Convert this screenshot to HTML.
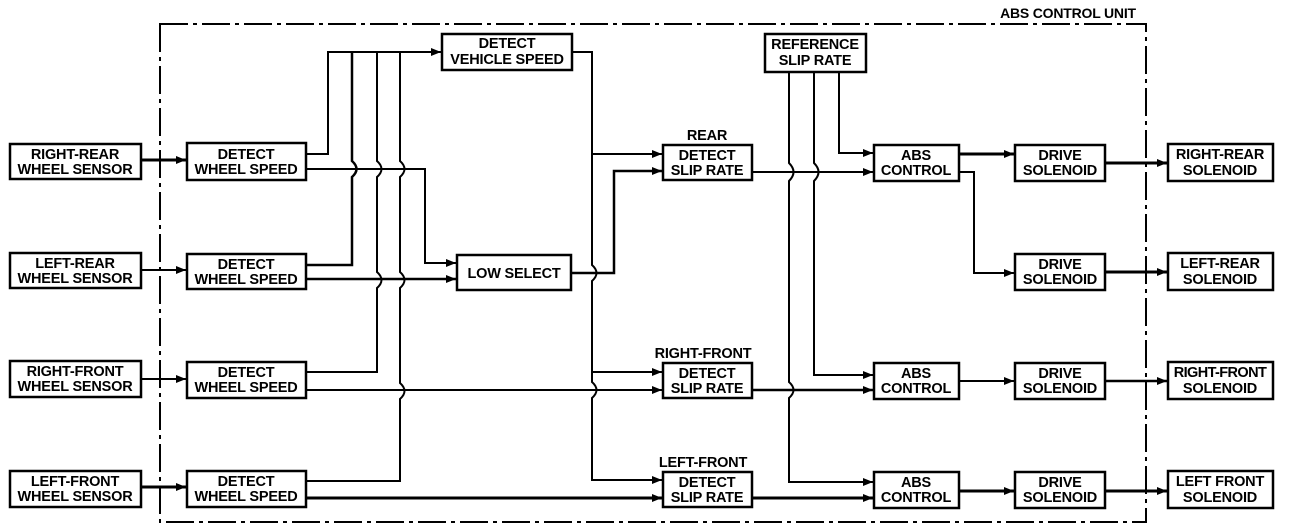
<!DOCTYPE html>
<html><head><meta charset="utf-8"><style>
html,body{margin:0;padding:0;background:#fff;}
svg{display:block}
text{font-family:"Liberation Sans",sans-serif;font-weight:bold;font-size:14.5px;fill:#000;text-anchor:middle;letter-spacing:-0.2px}
</style></head><body>
<svg width="1296" height="532" viewBox="0 0 1296 532" xmlns="http://www.w3.org/2000/svg">
<defs>
<marker id="a" markerWidth="10" markerHeight="8" refX="10" refY="4" orient="auto" markerUnits="userSpaceOnUse">
<path d="M0,0 L10,4 L0,8 Z" fill="#000"/></marker>
</defs>
<g fill="none" stroke="#000">
<path d="M160,24 H1146 V522 H160 Z" stroke-width="2" stroke-dasharray="28,5,4,5"/>
</g>
<text x="1068" y="18" style="font-size:14px">ABS CONTROL UNIT</text>

<g fill="#fff" stroke="#000" stroke-width="2.5">
<rect x="10" y="144" width="131" height="35"/>
<rect x="10" y="253" width="131" height="35"/>
<rect x="10" y="361" width="131" height="36"/>
<rect x="10" y="471" width="131" height="36"/>
<rect x="187" y="143" width="119" height="37"/>
<rect x="187" y="254" width="119" height="35"/>
<rect x="187" y="362" width="119" height="36"/>
<rect x="187" y="471" width="119" height="36"/>
<rect x="442" y="34" width="130" height="36"/>
<rect x="457" y="255" width="114" height="35"/>
<rect x="663" y="145" width="89" height="35"/>
<rect x="663" y="363" width="89" height="35"/>
<rect x="663" y="472" width="89" height="35"/>
<rect x="765" y="34" width="101" height="38"/>
<rect x="874" y="145" width="85" height="36"/>
<rect x="874" y="363" width="85" height="36"/>
<rect x="874" y="472" width="85" height="36"/>
<rect x="1015" y="145" width="90" height="36"/>
<rect x="1015" y="254" width="90" height="36"/>
<rect x="1015" y="363" width="90" height="36"/>
<rect x="1015" y="472" width="90" height="36"/>
<rect x="1168" y="144" width="105" height="37"/>
<rect x="1168" y="253" width="105" height="37"/>
<rect x="1168" y="362" width="105" height="37"/>
<rect x="1168" y="471" width="105" height="37"/>
</g>

<g fill="none" stroke="#000" stroke-width="2">
<path d="M141,160 H186" marker-end="url(#a)" stroke-width="3"/>
<path d="M141,270 H186" marker-end="url(#a)"/>
<path d="M141,379 H186" marker-end="url(#a)"/>
<path d="M141,487 H186" marker-end="url(#a)" stroke-width="3"/>
<path d="M306,154 H328 V52 H441" marker-end="url(#a)"/>
<path d="M306,265 H352 V177 Q361,169 352,161 V52" stroke-width="2.5"/>
<path d="M306,372 H377 V288 Q386,280 377,272 V177 Q386,169 377,161 V52"/>
<path d="M306,481 H400 V399 Q409,391 400,383 V288 Q409,280 400,272 V177 Q409,169 400,161 V52"/>
<path d="M306,169 H425 V263 H456" marker-end="url(#a)"/>
<path d="M306,279 H456" marker-end="url(#a)" stroke-width="2.5"/>
<path d="M306,390 H662" marker-end="url(#a)"/>
<path d="M306,498 H662" marker-end="url(#a)" stroke-width="3"/>
<path d="M572,52 H592 V265 Q601,273 592,281 V382 Q601,390 592,398 V480 H662" marker-end="url(#a)"/>
<path d="M592,154 H662" marker-end="url(#a)"/>
<path d="M592,372 H662" marker-end="url(#a)"/>
<path d="M571,273 H614 V171 H662" marker-end="url(#a)" stroke-width="2.5"/>
<path d="M839,72 V153 H873" marker-end="url(#a)"/>
<path d="M814,72 V163 Q823,172 814,181 V375 H873" marker-end="url(#a)"/>
<path d="M789,72 V163 Q798,172 789,181 V382 Q798,390 789,398 V482 H873" marker-end="url(#a)"/>
<path d="M752,172 H873" marker-end="url(#a)"/>
<path d="M752,390 H873" marker-end="url(#a)" stroke-width="2.5"/>
<path d="M752,498 H873" marker-end="url(#a)" stroke-width="3"/>
<path d="M959,154 H1014" marker-end="url(#a)" stroke-width="3"/>
<path d="M959,172 H974 V273 H1014" marker-end="url(#a)"/>
<path d="M959,381 H1014" marker-end="url(#a)"/>
<path d="M959,491 H1014" marker-end="url(#a)" stroke-width="3"/>
<path d="M1105,163 H1167" marker-end="url(#a)" stroke-width="3"/>
<path d="M1105,272 H1167" marker-end="url(#a)" stroke-width="3"/>
<path d="M1105,381 H1167" marker-end="url(#a)" stroke-width="2.5"/>
<path d="M1105,491 H1167" marker-end="url(#a)" stroke-width="3"/>
</g>

<g>
<text x="75" y="159">RIGHT-REAR</text><text x="75" y="174">WHEEL SENSOR</text>
<text x="75" y="268">LEFT-REAR</text><text x="75" y="283">WHEEL SENSOR</text>
<text x="75" y="376">RIGHT-FRONT</text><text x="75" y="391">WHEEL SENSOR</text>
<text x="75" y="486">LEFT-FRONT</text><text x="75" y="501">WHEEL SENSOR</text>

<text x="246" y="159">DETECT</text><text x="246" y="174">WHEEL SPEED</text>
<text x="246" y="269">DETECT</text><text x="246" y="284">WHEEL SPEED</text>
<text x="246" y="377">DETECT</text><text x="246" y="392">WHEEL SPEED</text>
<text x="246" y="486">DETECT</text><text x="246" y="501">WHEEL SPEED</text>

<text x="507" y="48">DETECT</text><text x="507" y="64">VEHICLE SPEED</text>
<text x="514" y="278">LOW SELECT</text>

<text x="707" y="140">REAR</text>
<text x="707" y="160">DETECT</text><text x="707" y="175">SLIP RATE</text>
<text x="703" y="358">RIGHT-FRONT</text>
<text x="707" y="378">DETECT</text><text x="707" y="393">SLIP RATE</text>
<text x="703" y="467">LEFT-FRONT</text>
<text x="707" y="487">DETECT</text><text x="707" y="502">SLIP RATE</text>

<text x="815" y="49">REFERENCE</text><text x="815" y="65">SLIP RATE</text>

<text x="916" y="160">ABS</text><text x="916" y="175">CONTROL</text>
<text x="916" y="378">ABS</text><text x="916" y="393">CONTROL</text>
<text x="916" y="487">ABS</text><text x="916" y="502">CONTROL</text>

<text x="1060" y="160">DRIVE</text><text x="1060" y="175">SOLENOID</text>
<text x="1060" y="269">DRIVE</text><text x="1060" y="284">SOLENOID</text>
<text x="1060" y="378">DRIVE</text><text x="1060" y="393">SOLENOID</text>
<text x="1060" y="487">DRIVE</text><text x="1060" y="502">SOLENOID</text>

<text x="1220" y="159">RIGHT-REAR</text><text x="1220" y="175">SOLENOID</text>
<text x="1220" y="268">LEFT-REAR</text><text x="1220" y="284">SOLENOID</text>
<text x="1220" y="377" style="letter-spacing:-0.6px">RIGHT-FRONT</text><text x="1220" y="393">SOLENOID</text>
<text x="1220" y="486">LEFT FRONT</text><text x="1220" y="502">SOLENOID</text>
</g>
</svg>
</body></html>
